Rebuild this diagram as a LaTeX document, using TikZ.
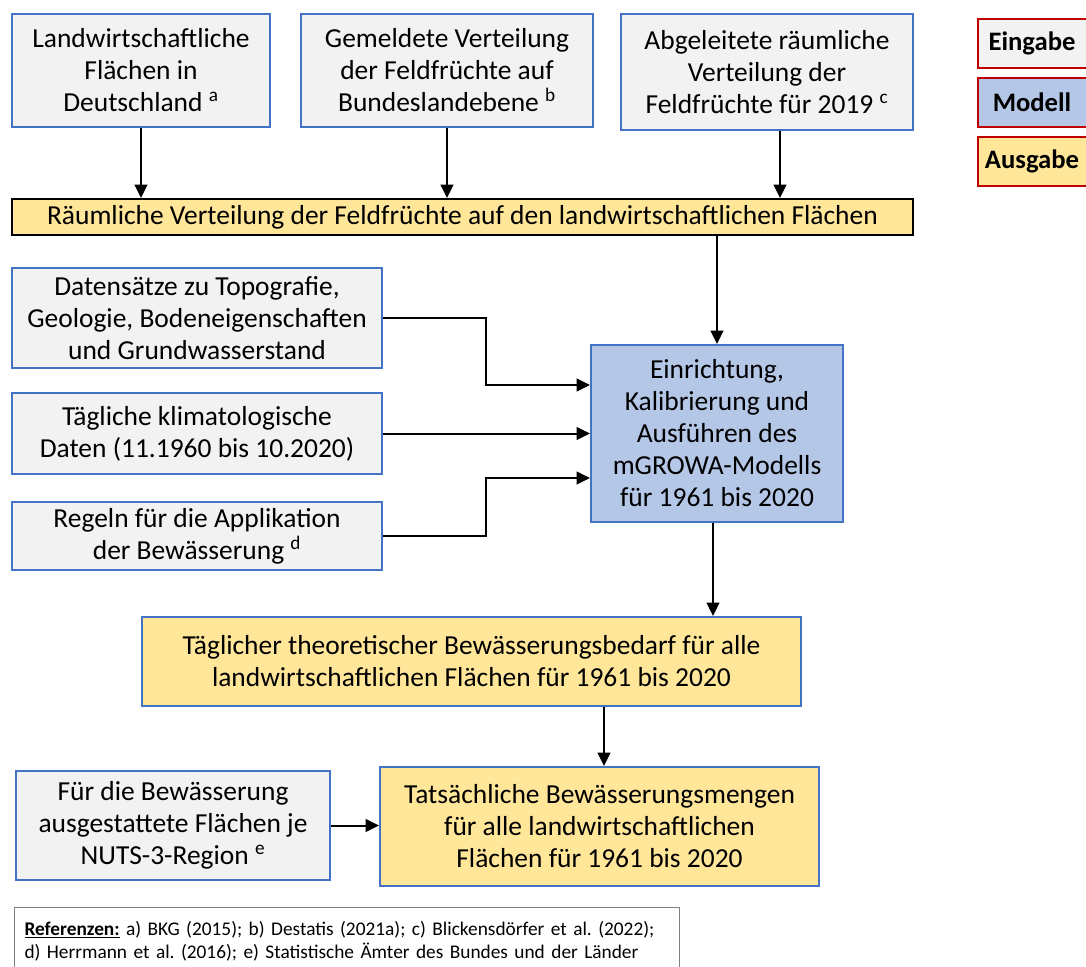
\documentclass[tikz,border=0pt]{standalone}
\usepackage{fontspec}
\setmainfont{Carlito}
\usetikzlibrary{arrows.meta, positioning}

\definecolor{inputfill}{HTML}{F2F2F2}
\definecolor{boxblue}{HTML}{4472C4}
\definecolor{modelfill}{HTML}{B4C7E7}
\definecolor{outputfill}{HTML}{FFE699}
\definecolor{legendred}{HTML}{C00000}

\begin{document}
\frenchspacing
\begin{tikzpicture}[
  x=0.75pt, y=-0.75pt,
  every node/.style={align=center, inner sep=0pt, font=\fontsize{20.6}{24}\selectfont},
  box/.style={draw=boxblue, line width=1.5pt},
  input/.style={box, fill=inputfill},
  model/.style={box, fill=modelfill},
  output/.style={box, fill=outputfill},
  legend/.style={draw=legendred, line width=1.5pt, anchor=west, minimum height=36.75pt,
    text width=90pt, align=left, font=\fontsize{20}{24}\selectfont\bfseries},
  arrow/.style={-{Triangle[length=10pt, width=9.5pt]}, line width=1.5pt}
]
\useasboundingbox (0,0) rectangle (1086,967);

% Eingabedaten oben
\node (flaechen) [input, minimum width=193.5pt, minimum height=84.75pt] at (141,70.5)
  {Landwirtschaftliche\\Flächen in\\Deutschland \textsuperscript{a}};
\node (gemeldet) [input, minimum width=219pt, minimum height=84.75pt] at (447,70.5)
  {Gemeldete Verteilung\\der Feldfrüchte auf\\Bundeslandebene \textsuperscript{b}};
\node (abgeleitet) [input, minimum width=219pt, minimum height=87pt] at (767,72)
  {Abgeleitete räumliche\\Verteilung der\\Feldfrüchte für 2019 \textsuperscript{c}};

% Legende
\node (eingabe) [legend, fill=inputfill] at (977,43.5) {\makebox[81pt]{Eingabe}};
\node (modell) [legend, fill=modelfill] at (977,102) {\makebox[81pt]{Modell}};
\node (ausgabe) [legend, fill=outputfill] at (977,161.5) {\makebox[81pt]{Ausgabe}};

\node (verteilung) [output, draw=black, minimum width=675.75pt, minimum height=27pt] at (462.5,217)
  {Räumliche Verteilung der Feldfrüchte auf den landwirtschaftlichen Flächen};

% Eingabedaten links
\node (topo) [input, minimum width=277.5pt, minimum height=75pt] at (197,318)
  {Datensätze zu Topografie,\\Geologie, Bodeneigenschaften\\und Grundwasserstand};
\node (klima) [input, minimum width=277.5pt, minimum height=60.75pt] at (197,433.5)
  {Tägliche klimatologische\\Daten (11.1960 bis 10.2020)};
\node (regeln) [input, minimum width=277.5pt, minimum height=51pt] at (197,536)
  {Regeln für die Applikation\\der Bewässerung \textsuperscript{d}};

\node (mgrowa) [model, minimum width=189pt, minimum height=132.75pt] at (717,433.5)
  {Einrichtung,\\Kalibrierung und\\Ausführen des\\mGROWA-Modells\\für 1961 bis 2020};

\node (bedarf) [output, minimum width=494.25pt, minimum height=66.75pt] at (471.5,661.5)
  {Täglicher theoretischer Bewässerungsbedarf für alle\\landwirtschaftlichen Flächen für 1961 bis 2020};
\node (mengen) [output, minimum width=329.25pt, minimum height=89.25pt] at (599.5,826.5)
  {Tatsächliche Bewässerungsmengen\\für alle landwirtschaftlichen\\Flächen für 1961 bis 2020};
\node (nuts) [input, minimum width=235.5pt, minimum height=81.75pt] at (173,825.5)
  {Für die Bewässerung\\ausgestattete Flächen je\\NUTS-3-Region \textsuperscript{e}};

\node (referenzen) [draw=gray, line width=1pt, anchor=north west, minimum width=498.75pt, minimum height=50pt,
  text width=488pt, align=left, font=\fontsize{14.5}{17.5}\selectfont\frenchspacing] at (14,907)
  {\hspace{2pt}\textbf{\underline{Referenzen:}} a) BKG (2015); b) Destatis (2021a); c) Blickensdörfer et al. (2022);\\
   \hspace{2pt}d) Herrmann et al. (2016); e) Statistische Ämter des Bundes und der Länder};

\draw [arrow] (flaechen.south) -- (flaechen.south |- verteilung.north);
\draw [arrow] (gemeldet.south) -- (gemeldet.south |- verteilung.north);
\draw [arrow] ([xshift=9.75pt]abgeleitet.south) -- ([xshift=9.75pt]abgeleitet.south |- verteilung.north);
\draw [arrow] (verteilung.south -| mgrowa.north) -- (mgrowa.north);
\draw [arrow] (topo.east) -- ++(77.25pt,0) |- ([yshift=36.4pt]mgrowa.west);
\draw [arrow] (klima.east) -- (klima.east -| mgrowa.west);
\draw [arrow] (regeln.east) -- ++(77.25pt,0) |- ([yshift=-33.4pt]mgrowa.west);
\draw [arrow] ([xshift=-3pt]mgrowa.south) -- ([xshift=-3pt]mgrowa.south |- bedarf.north);
\draw [arrow] ([xshift=3.4pt]mengen.north |- bedarf.south) -- ([xshift=3.4pt]mengen.north);
\draw [arrow] (nuts.east) -- (nuts.east -| mengen.west);
\end{tikzpicture}
\end{document}
